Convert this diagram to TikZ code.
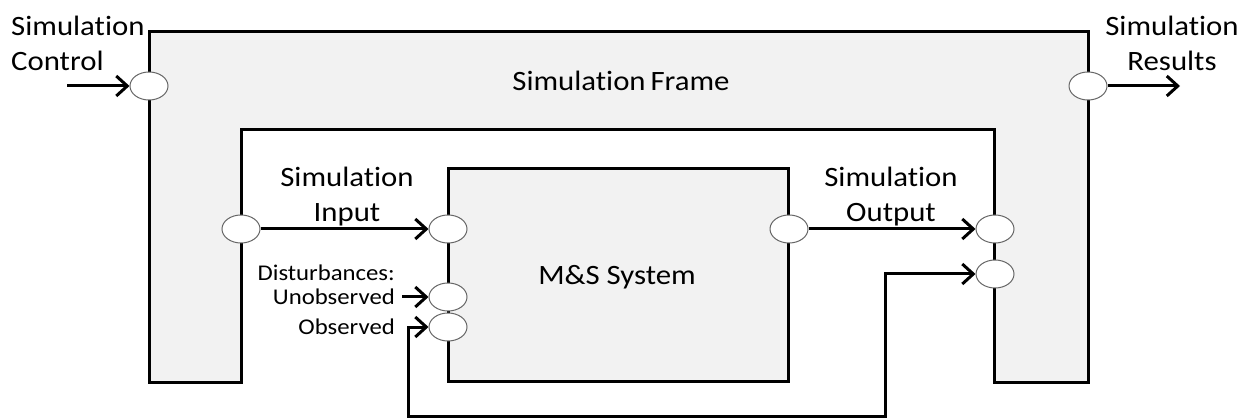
\documentclass[tikz,border=0pt]{standalone}
\usepackage{fontspec}
\setmainfont{Carlito}[FakeStretch=1.1,Ligatures=NoCommon]
\usetikzlibrary{shapes.geometric,arrows.meta}
\begin{document}
\begin{tikzpicture}[x=1pt,y=-1pt,
  port/.style={ellipse,draw=black!60,line width=1pt,fill=white,minimum width=38pt,minimum height=28pt,inner sep=0pt},
  frameline/.style={draw=black,line width=3pt,fill=black!5,line join=miter},
  tip/.tip={Straight Barb[length=11pt,width=20pt]},
  arr/.style={line width=3pt,-tip},
  lbl/.style={font=\fontsize{28}{35}\selectfont,inner sep=0pt,align=center},
  small/.style={font=\fontsize{22.5}{28}\selectfont,inner sep=0pt}
]
\useasboundingbox (0,0) rectangle (1249,419);
% simulation frame
\draw[frameline] (149,382) -- (149,32) -- (1088,32) -- (1088,382) -- (994,382)
  -- (994,130) -- (241,130) -- (241,382) -- cycle;
% M&S system box
\draw[frameline] (448,169) rectangle (788,381);
% ports
\node[port] (pc) at (149,86) {};
\node[port] (pr) at (1088,86) {};
\node[port] (pin) at (241,229) {};
\node[port] (msin) at (448,229) {};
\node[port] (msout) at (789,229) {};
\node[port] (rout) at (995,229) {};
\node[port] (rfb) at (995,274) {};
\node[port] (unobs) at (448,297) {};
\node[port] (obs) at (448,327) {};
% labels
\node[lbl,align=left,anchor=west] (ctrl) at (11,43) {Simulation\\Control};
\node[lbl] (res) at (1172,43) {Simulation\\Results};
\node[lbl] (frm) at (621,81) {Simulation\hspace{-2pt} Frame};
\node[lbl] (inl) at (347,197) {Simulation\\Input};
\node[lbl] (outl) at (891,197) {Simulation\\Output};
\node[lbl] (ms) at (617,277) {M\&S System};
\node[small,anchor=east] (dist) at (395,273) {Disturbances:};
\node[small,anchor=east] (unl) at (395,297) {Unobserved};
\node[small,anchor=east] (obl) at (395,327) {Observed};
% coordinates
\coordinate (cs) at (67,86);
\coordinate (re) at (1180,86);
\coordinate (fbL) at (408,416);
\coordinate (fbR) at (885,416);
% connectors
\draw[arr] (cs) -- (pc.west);
\draw[arr] (pr.east) -- (re);
\draw[arr] (pin.east) -- (msin.west);
\draw[arr] (msout.east) -- (rout.west);
\draw[arr] ([xshift=7pt]unl.east) -- (unobs.west);
\draw[line width=3pt,tip-tip] (obs.west) -| (fbL) -- (fbR) |- (rfb.west);
\end{tikzpicture}
\end{document}
